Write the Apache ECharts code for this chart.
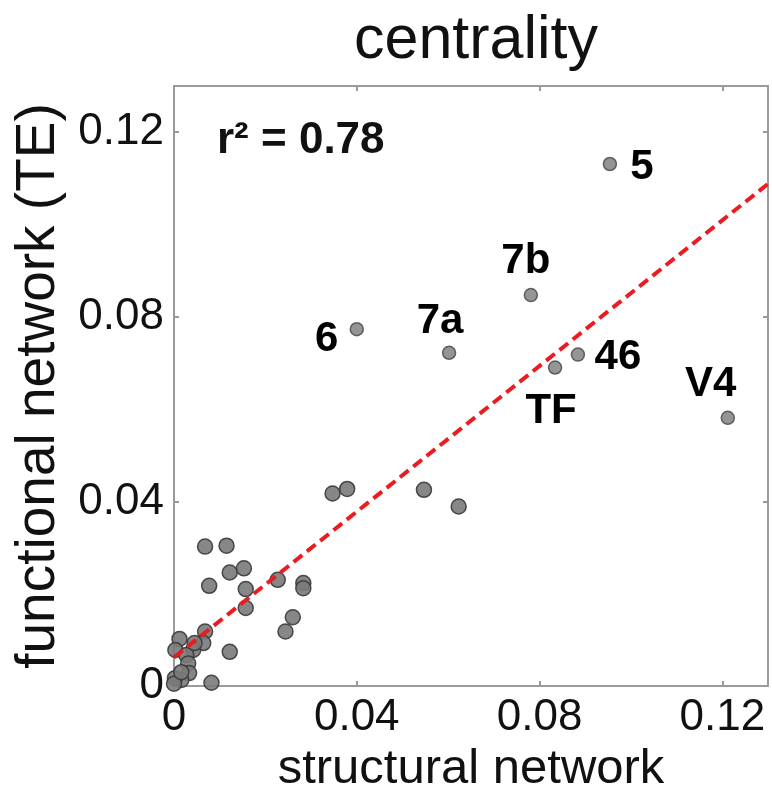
<!DOCTYPE html>
<html>
<head>
<meta charset="utf-8">
<script src="https://cdn.jsdelivr.net/npm/echarts@6/dist/echarts.min.js"></script>
<style>
  html, body { margin: 0; padding: 0; background: #fff; }
  #chart { width: 772px; height: 785px; }
</style>
</head>
<body>
<div id="chart"></div>
<script>
// labelled areas
var areaNames = ['5', '7b', '6', '7a', '46', 'TF', 'V4'];
var areaX = [0.0954, 0.0781, 0.0400, 0.0602, 0.0884, 0.0834, 0.1212];
var areaY = [0.1131, 0.0847, 0.0773, 0.0722, 0.0718, 0.0690, 0.0581];
// where each name sits relative to its dot
var areaLabelOffset = [[32, 3], [-5, -34], [-30, 10], [-9, -31], [40, 3], [-4, 44], [-17, -33]];

// the other areas (unlabelled)
var restX = [0.0347, 0.0379, 0.0547, 0.0623, 0.0068, 0.0115, 0.0122, 0.0153,
             0.0077, 0.0157, 0.0157, 0.0227, 0.0283, 0.0283, 0.0260, 0.0244,
             0.0122, 0.0082, 0.0012, 0.0068, 0.0064, 0.0042, 0.0003, 0.0027,
             0.0031, 0.0033, 0.0016, 0.0002, 0.0000, 0.0016, 0.0045];
var restY = [0.0417, 0.0427, 0.0425, 0.0389, 0.0302, 0.0304, 0.0246, 0.0255,
             0.0217, 0.0210, 0.0169, 0.0230, 0.0223, 0.0212, 0.0149, 0.0118,
             0.0074, 0.0007, 0.0102, 0.0118, 0.0093, 0.0078, 0.0078, 0.0067,
             0.0049, 0.0028, 0.0013, 0.0017, 0.0005, 0.0030, 0.0093];

// regression line
var fitX = [0, 0.13];
var fitY = [0.0062, 0.1088];

var font = "'Liberation Sans', Arial, sans-serif";
var axisGray = '#9a9a9a';

var labelled = areaX.map(function (x, i) {
  return {
    value: [x, areaY[i]],
    label: { show: true, formatter: areaNames[i], offset: areaLabelOffset[i] }
  };
});
var rest = restX.map(function (x, i) { return [x, restY[i]]; });
var fit = fitX.map(function (x, i) { return [x, fitY[i]]; });

function mainAxis(name, pos, gap, nameSize) {
  return {
    type: 'value', position: pos, min: 0, max: 0.13, interval: 0.04,
    name: name, nameLocation: 'middle', nameGap: gap,
    nameTextStyle: { fontFamily: font, fontSize: nameSize, color: '#111' },
    axisLine: { show: true, onZero: false, lineStyle: { color: axisGray, width: 2 } },
    axisTick: { show: true, inside: true, length: 5, lineStyle: { color: axisGray, width: 2 } },
    axisLabel: { fontFamily: font, fontSize: 44, color: '#111', margin: 10, showMaxLabel: false },
    splitLine: { show: false }
  };
}
function boxAxis(pos) {
  return {
    type: 'value', position: pos, min: 0, max: 0.13, interval: 0.04,
    axisLine: { show: true, onZero: false, lineStyle: { color: axisGray, width: 2 } },
    axisTick: { show: true, inside: true, length: 5, lineStyle: { color: axisGray, width: 2 } },
    axisLabel: { show: false },
    splitLine: { show: false }
  };
}

var xMain = mainAxis('structural network', 'bottom', 38, 49);
var yMain = mainAxis('functional network (TE)', 'left', 108, 55);
yMain.nameRotate = 90;

var myChart = echarts.init(document.getElementById('chart'));
var option = {
  animation: false,
  backgroundColor: '#fff',
  title: {
    text: 'centrality', left: 471, top: 6, textAlign: 'center',
    textStyle: { fontFamily: font, fontSize: 61, fontWeight: 'normal', color: '#111' }
  },
  grid: { left: 174, right: 4, top: 86, bottom: 99, outerBoundsMode: 'none', containLabel: false },
  xAxis: [xMain, boxAxis('top')],
  yAxis: [yMain, boxAxis('right')],
  graphic: [{
    type: 'text', left: 217, top: 119,
    style: { text: 'r² = 0.78', font: 'bold 44px ' + font, fill: '#111' }
  }],
  series: [
    {
      type: 'scatter', data: rest, symbolSize: 15,
      itemStyle: { color: '#7a7a7a', borderColor: '#3a3a3a', borderWidth: 1.5, opacity: 0.9 }
    },
    {
      type: 'line', data: fit, symbol: 'none', z: 3,
      lineStyle: { color: '#ea1c1f', width: 4, type: [11, 6] }
    },
    {
      type: 'scatter', data: labelled, symbolSize: 13, z: 4,
      itemStyle: { color: '#7a7a7a', borderColor: '#444', borderWidth: 1.5 },
      label: {
        position: 'inside', align: 'center', verticalAlign: 'middle',
        fontFamily: font, fontSize: 42, fontWeight: 'bold', color: '#000',
        textBorderWidth: 0, opacity: 1
      }
    }
  ]
};
myChart.setOption(option);
</script>
</body>
</html>
